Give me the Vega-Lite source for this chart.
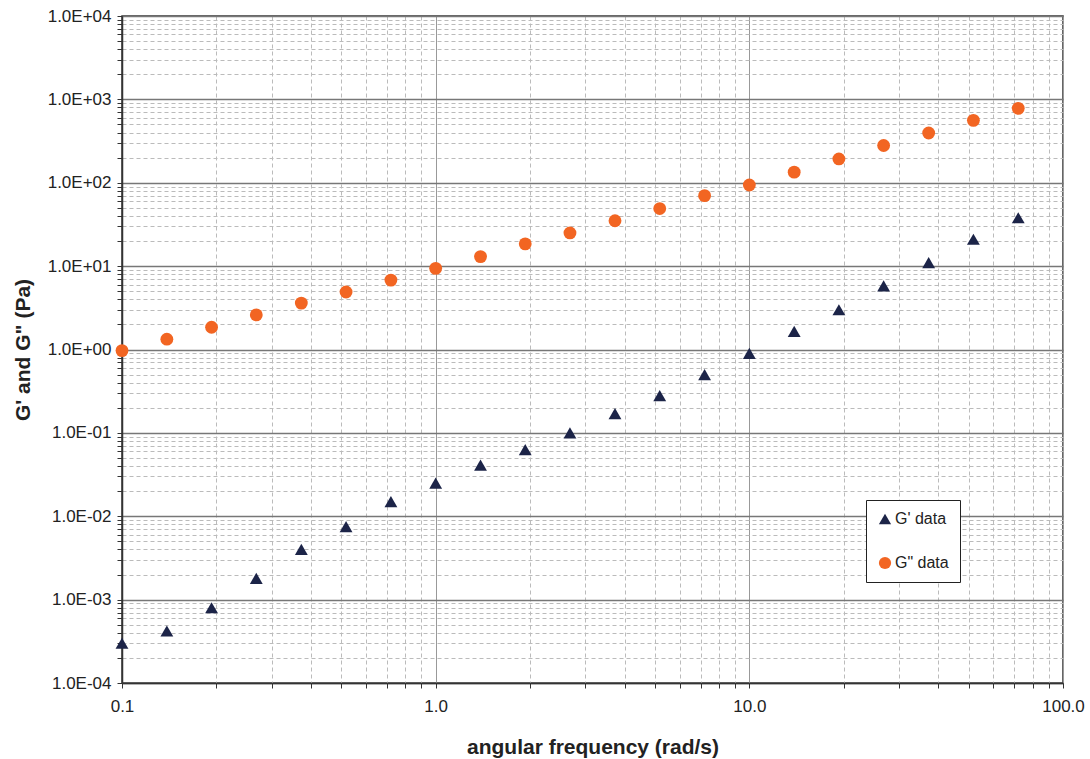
{
  "$schema": "https://vega.github.io/schema/vega-lite/v6.json",
  "autosize": {"type": "none"},
  "padding": {"left": 122, "top": 16, "right": 27, "bottom": 76},
  "width": 941,
  "height": 667,
  "background": "white",
  "config": {
    "font": "Liberation Sans",
    "view": {"stroke": "#333", "strokeWidth": 1.5}
  },
  "data": {
    "values": [
      {"freq": 0.1, "modulus": 0.97, "series": "G\" data"},
      {"freq": 0.139, "modulus": 1.33, "series": "G\" data"},
      {"freq": 0.193, "modulus": 1.85, "series": "G\" data"},
      {"freq": 0.268, "modulus": 2.6, "series": "G\" data"},
      {"freq": 0.373, "modulus": 3.6, "series": "G\" data"},
      {"freq": 0.518, "modulus": 4.9, "series": "G\" data"},
      {"freq": 0.72, "modulus": 6.8, "series": "G\" data"},
      {"freq": 1.0, "modulus": 9.4, "series": "G\" data"},
      {"freq": 1.39, "modulus": 13, "series": "G\" data"},
      {"freq": 1.93, "modulus": 18.5, "series": "G\" data"},
      {"freq": 2.68, "modulus": 25, "series": "G\" data"},
      {"freq": 3.73, "modulus": 35, "series": "G\" data"},
      {"freq": 5.18, "modulus": 49, "series": "G\" data"},
      {"freq": 7.2, "modulus": 70, "series": "G\" data"},
      {"freq": 10, "modulus": 94, "series": "G\" data"},
      {"freq": 13.9, "modulus": 134, "series": "G\" data"},
      {"freq": 19.3, "modulus": 193, "series": "G\" data"},
      {"freq": 26.8, "modulus": 280, "series": "G\" data"},
      {"freq": 37.3, "modulus": 395, "series": "G\" data"},
      {"freq": 51.8, "modulus": 560, "series": "G\" data"},
      {"freq": 72, "modulus": 780, "series": "G\" data"},
      {"freq": 0.1, "modulus": 0.0003, "series": "G' data"},
      {"freq": 0.139, "modulus": 0.00042, "series": "G' data"},
      {"freq": 0.193, "modulus": 0.0008, "series": "G' data"},
      {"freq": 0.268, "modulus": 0.0018, "series": "G' data"},
      {"freq": 0.373, "modulus": 0.004, "series": "G' data"},
      {"freq": 0.518, "modulus": 0.0075, "series": "G' data"},
      {"freq": 0.72, "modulus": 0.015, "series": "G' data"},
      {"freq": 1.0, "modulus": 0.025, "series": "G' data"},
      {"freq": 1.39, "modulus": 0.041, "series": "G' data"},
      {"freq": 1.93, "modulus": 0.063, "series": "G' data"},
      {"freq": 2.68, "modulus": 0.1, "series": "G' data"},
      {"freq": 3.73, "modulus": 0.17, "series": "G' data"},
      {"freq": 5.18, "modulus": 0.28, "series": "G' data"},
      {"freq": 7.2, "modulus": 0.5, "series": "G' data"},
      {"freq": 10, "modulus": 0.9, "series": "G' data"},
      {"freq": 13.9, "modulus": 1.65, "series": "G' data"},
      {"freq": 19.3, "modulus": 3.0, "series": "G' data"},
      {"freq": 26.8, "modulus": 5.8, "series": "G' data"},
      {"freq": 37.3, "modulus": 11, "series": "G' data"},
      {"freq": 51.8, "modulus": 21, "series": "G' data"},
      {"freq": 72, "modulus": 38, "series": "G' data"}
    ]
  },
  "mark": {"type": "point", "filled": true, "opacity": 1, "size": 165},
  "encoding": {
    "x": {
      "field": "freq",
      "type": "quantitative",
      "scale": {"type": "log", "domain": [0.1, 100], "nice": false},
      "axis": {
        "title": "angular frequency (rad/s)",
        "titleFontSize": 21,
        "titleFontWeight": "bold",
        "titleColor": "#222",
        "titlePadding": 22,
        "labelFontSize": 17,
        "labelColor": "#222",
        "labelPadding": 10,
        "labelFlush": false,
        "labelOverlap": false,
        "values": [0.1,0.2,0.3,0.4,0.5,0.6,0.7,0.8,0.9,1,2,3,4,5,6,7,8,9,10,20,30,40,50,60,70,80,90,100],
        "labelExpr": "abs(log(datum.value)/LN10 - round(log(datum.value)/LN10)) < 0.001 ? format(datum.value, '.1f') : ''",
        "domainColor": "#333",
        "domainWidth": 1.5,
        "tickColor": "#333",
        "tickSize": 5,
        "grid": true,
        "gridColor": {"condition": {"test": "abs(log(datum.value)/LN10 - round(log(datum.value)/LN10)) < 0.001", "value": "#999"}, "value": "#bbb"},
        "gridDash": {"condition": {"test": "abs(log(datum.value)/LN10 - round(log(datum.value)/LN10)) < 0.001", "value": []}, "value": [4, 3]},
        "gridWidth": 1
      }
    },
    "y": {
      "field": "modulus",
      "type": "quantitative",
      "scale": {"type": "log", "domain": [0.0001, 10000], "nice": false},
      "axis": {
        "title": "G' and G\" (Pa)",
        "titleFontSize": 21,
        "titleFontWeight": "bold",
        "titleColor": "#222",
        "titlePadding": 14,
        "labelFontSize": 17,
        "labelColor": "#222",
        "labelPadding": 6,
        "labelFlush": false,
        "labelOverlap": false,
        "values": [0.0001,0.0002,0.0003,0.0004,0.0005,0.0006,0.0007,0.0008,0.0009,0.001,0.002,0.003,0.004,0.005,0.006,0.007,0.008,0.009,0.01,0.02,0.03,0.04,0.05,0.06,0.07,0.08,0.09,0.1,0.2,0.3,0.4,0.5,0.6,0.7,0.8,0.9,1,2,3,4,5,6,7,8,9,10,20,30,40,50,60,70,80,90,100,200,300,400,500,600,700,800,900,1000,2000,3000,4000,5000,6000,7000,8000,9000,10000],
        "labelExpr": "abs(log(datum.value)/LN10 - round(log(datum.value)/LN10)) < 0.001 ? replace(replace(format(datum.value, '.1e'), 'e+', 'E+0'), 'e-', 'E-0') : ''",
        "domainColor": "#333",
        "domainWidth": 1.5,
        "tickColor": "#333",
        "tickSize": 5,
        "grid": true,
        "gridColor": {"condition": {"test": "abs(log(datum.value)/LN10 - round(log(datum.value)/LN10)) < 0.001", "value": "#777"}, "value": "#bbb"},
        "gridDash": {"condition": {"test": "abs(log(datum.value)/LN10 - round(log(datum.value)/LN10)) < 0.001", "value": []}, "value": [4, 3]},
        "gridWidth": {"condition": {"test": "abs(log(datum.value)/LN10 - round(log(datum.value)/LN10)) < 0.001", "value": 1.3}, "value": 1}
      }
    },
    "color": {
      "field": "series",
      "type": "nominal",
      "scale": {"domain": ["G' data", "G\" data"], "range": ["#1c2448", "#f26522"]},
      "legend": {
        "title": null,
        "orient": "none",
        "legendX": 744,
        "legendY": 484,
        "fillColor": "white",
        "strokeColor": "#222",
        "padding": 11,
        "rowPadding": 28,
        "labelFontSize": 16,
        "labelColor": "#222",
        "symbolSize": 150,
        "labelOffset": 2
      }
    },
    "shape": {
      "field": "series",
      "type": "nominal",
      "scale": {"domain": ["G' data", "G\" data"], "range": ["triangle-up", "circle"]}
    }
  }
}
